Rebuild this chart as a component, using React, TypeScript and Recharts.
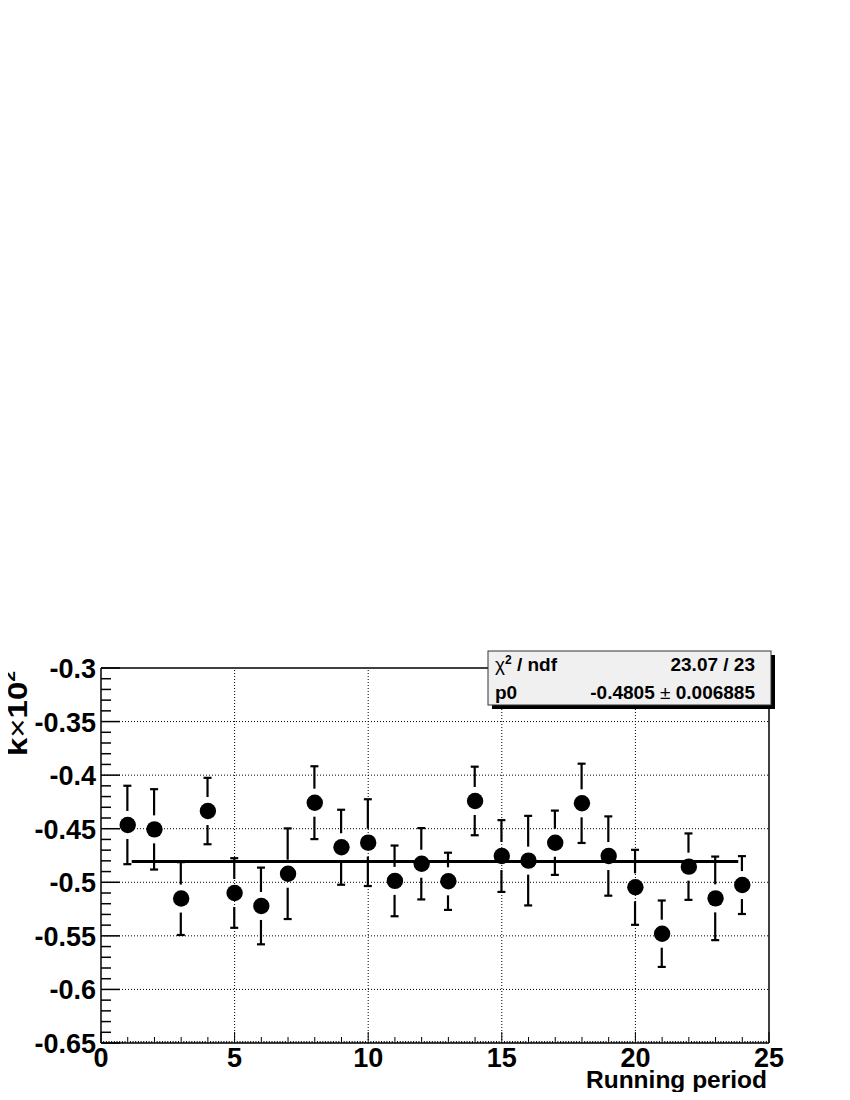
import React from 'react';
import { ComposedChart, XAxis, YAxis, Scatter, Bar, ReferenceLine } from 'recharts';

// ---- data ----
const periods = [1, 2, 3, 4, 5, 6, 7, 8, 9, 10, 11, 12, 13, 14, 15, 16, 17, 18, 19, 20, 21, 22, 23, 24];
const kValues = [
  -0.4465, -0.4506, -0.5152, -0.4335, -0.51, -0.5221, -0.492, -0.4257, -0.4673, -0.463, -0.4987, -0.4827,
  -0.4991, -0.4241, -0.4755, -0.4798, -0.4631, -0.4263, -0.4755, -0.5047, -0.548, -0.4854, -0.515, -0.5026,
];
const kErrors = [
  0.0366, 0.0375, 0.034, 0.031, 0.0325, 0.0358, 0.0423, 0.034, 0.035, 0.0405, 0.033, 0.0333,
  0.0267, 0.032, 0.0335, 0.0418, 0.03, 0.037, 0.037, 0.035, 0.031, 0.031, 0.039, 0.027,
];
const fitP0 = -0.4805;
const fitP0Label = '-0.4805';
const fitP0ErrLabel = '0.006885';
const chi2Label = '23.07 / 23';
const fitRange = [1.15, 23.85];

const xDomain = [0, 25];
const yDomain = [-0.65, -0.3];
const xMajorTicks = [0, 5, 10, 15, 20, 25];
const xTickLabels = ['0', '5', '10', '15', '20', '25'];
const yMajorTicks = [-0.65, -0.6, -0.55, -0.5, -0.45, -0.4, -0.35, -0.3];
const yTickLabels = ['-0.65', '-0.6', '-0.55', '-0.5', '-0.45', '-0.4', '-0.35', '-0.3'];
const xGridValues = [5, 10, 15, 20];
const yGridValues = [-0.6, -0.55, -0.5, -0.45, -0.4, -0.35];

// axis tick positions (major + minor)
const xAllTicks: number[] = [];
for (let i = 0; i <= 250; i++) xAllTicks.push(i / 10);
const yAllTicks: number[] = [];
for (let i = -65; i <= -30; i++) yAllTicks.push(i / 100);

const rows = periods.map((p, i) => ({
  x: p,
  k: kValues[i],
  range: [kValues[i] - kErrors[i], kValues[i] + kErrors[i]],
}));

const FONT = '"Liberation Sans", Arial, Helvetica, sans-serif';

const YTick = (props: any) => {
  const { x, y, payload } = props;
  const v = payload.value;
  const i = Math.round(v * 100);
  const major = i % 5 === 0;
  const idx = yMajorTicks.findIndex((t) => Math.abs(t - v) < 1e-6);
  return (
    <g>
      <line x1={x} y1={y} x2={x + (major ? 19 : 10)} y2={y} stroke="#000" strokeWidth={1.5} />
      {major && idx >= 0 && (
        <text x={x - 5} y={y + 10} textAnchor="end" fontSize={27} fontWeight="bold" fontFamily={FONT} fill="#000">
          {yTickLabels[idx]}
        </text>
      )}
    </g>
  );
};

const XTick = (props: any) => {
  const { x, y, payload } = props;
  const v = payload.value;
  const i = Math.round(v * 10);
  const major = i % 50 === 0;
  const unit = i % 10 === 0;
  const len = major ? 11 : unit ? 6 : 2;
  const idx = xMajorTicks.findIndex((t) => Math.abs(t - v) < 1e-6);
  return (
    <g>
      <line x1={x} y1={y} x2={x} y2={y - len} stroke="#000" strokeWidth={1} />
      {major && idx >= 0 && (
        <text x={x} y={y + 24} textAnchor="middle" fontSize={27} fontWeight="bold" fontFamily={FONT} fill="#000">
          {xTickLabels[idx]}
        </text>
      )}
    </g>
  );
};

// Error bar drawn from the library-computed ranged bar geometry, with a gap around the marker
const ErrorShape = (props: any) => {
  const { x, y, width, height, payload } = props;
  if (x == null || y == null) return null;
  const cx = x + width / 2;
  const top = Math.min(y, y + height);
  const bottom = Math.max(y, y + height);
  const [lo, hi] = payload.range;
  const cy = top + ((bottom - top) * (hi - payload.k)) / (hi - lo);
  const gap = 14;
  const cap = 4;
  const parts: React.ReactNode[] = [];
  if (cy - gap > top) parts.push(<line key="u" x1={cx} y1={top} x2={cx} y2={cy - gap} stroke="#000" strokeWidth={2.2} />);
  if (bottom > cy + gap) parts.push(<line key="d" x1={cx} y1={cy + gap} x2={cx} y2={bottom} stroke="#000" strokeWidth={2.2} />);
  parts.push(<line key="ct" x1={cx - cap} y1={top} x2={cx + cap} y2={top} stroke="#000" strokeWidth={2.2} />);
  parts.push(<line key="cb" x1={cx - cap} y1={bottom} x2={cx + cap} y2={bottom} stroke="#000" strokeWidth={2.2} />);
  return <g>{parts}</g>;
};

const Marker = (props: any) => {
  const { cx, cy } = props;
  if (cx == null || cy == null) return null;
  return <circle cx={cx} cy={cy} r={8.2} fill="#000" />;
};

export default function App() {
  return (
    <div style={{ position: 'relative', width: 834, height: 1084 }}>
      <ComposedChart
        width={834}
        height={1084}
        data={rows}
        margin={{ top: 660, right: 73, bottom: 9, left: 13 }}
      >
        <XAxis
          dataKey="x"
          type="number"
          domain={xDomain}
          ticks={xAllTicks}
          interval={0}
          tickSize={0}
          tickMargin={0}
          tickLine={false}
          axisLine={{ stroke: '#000', strokeWidth: 1.5 }}
          tick={<XTick />}
          height={40}
          allowDataOverflow
        />
        <YAxis
          type="number"
          domain={yDomain}
          ticks={yAllTicks}
          interval={0}
          tickSize={0}
          tickMargin={0}
          tickLine={false}
          axisLine={{ stroke: '#000', strokeWidth: 1.5 }}
          tick={<YTick />}
          width={80}
          allowDataOverflow
        />
        {xGridValues.map((v) => (
          <ReferenceLine key={'gx' + v} x={v} stroke="#000" strokeWidth={1} strokeDasharray="1 2" />
        ))}
        {yGridValues.map((v) => (
          <ReferenceLine key={'gy' + v} y={v} stroke="#000" strokeWidth={1} strokeDasharray="1 2" />
        ))}
        <ReferenceLine y={yDomain[1]} stroke="#000" strokeWidth={1.5} />
        <ReferenceLine x={xDomain[1]} stroke="#000" strokeWidth={1.5} />
        <Bar dataKey="range" barSize={8} shape={<ErrorShape />} isAnimationActive={false} />
        <Scatter dataKey="k" shape={<Marker />} isAnimationActive={false} />
        <ReferenceLine
          segment={[
            { x: fitRange[0], y: fitP0 },
            { x: fitRange[1], y: fitP0 },
          ]}
          stroke="#000"
          strokeWidth={3}
        />
      </ComposedChart>
      {/* y-axis title (HTML, rotated) */}
      <div
        style={{
          position: 'absolute',
          left: -5,
          top: 748,
          transform: 'rotate(-90deg) scaleX(1.22)',
          transformOrigin: 'left top',
          whiteSpace: 'nowrap',
          fontFamily: FONT,
          fontWeight: 'bold',
          fontSize: 27,
          lineHeight: '30px',
          color: '#000',
          pointerEvents: 'none',
        }}
      >
        k<span style={{ fontWeight: 'normal' }}>×</span>10
        <span style={{ fontSize: 16, position: 'relative', top: -12 }}>2</span>
      </div>
      <svg
        width={834}
        height={1084}
        style={{ position: 'absolute', left: 0, top: 0, pointerEvents: 'none', overflow: 'visible' }}
      >
        {/* x-axis title */}
        <text x={759} y={1080} textAnchor="end" fontSize={24.5} fontWeight="bold" fontFamily={FONT} fill="#000">
          Running period
        </text>
        {/* stats box */}
        <rect x={484} y={647} width={283} height={54} fill="#000" />
        <rect x={480} y={643} width={283} height={54} fill="#f0f0f0" stroke="#333" strokeWidth={1} />
        <text x={487} y={663} fontSize={19} fontWeight="bold" fontFamily={FONT} fill="#000">
          <tspan fontWeight="normal">χ</tspan>
          <tspan fontSize={12} dy={-7}>2</tspan>
          <tspan dy={7}> / ndf</tspan>
        </text>
        <text x={747} y={663} textAnchor="end" fontSize={19} fontWeight="bold" fontFamily={FONT} fill="#000">
          {chi2Label}
        </text>
        <text x={487} y={691} fontSize={19} fontWeight="bold" fontFamily={FONT} fill="#000">
          p0
        </text>
        <text x={747} y={691} textAnchor="end" fontSize={19} fontWeight="bold" fontFamily={FONT} fill="#000">
          <tspan>{fitP0Label}</tspan>
          <tspan fontWeight="normal"> ± </tspan>
          <tspan>{fitP0ErrLabel}</tspan>
        </text>
      </svg>
    </div>
  );
}
